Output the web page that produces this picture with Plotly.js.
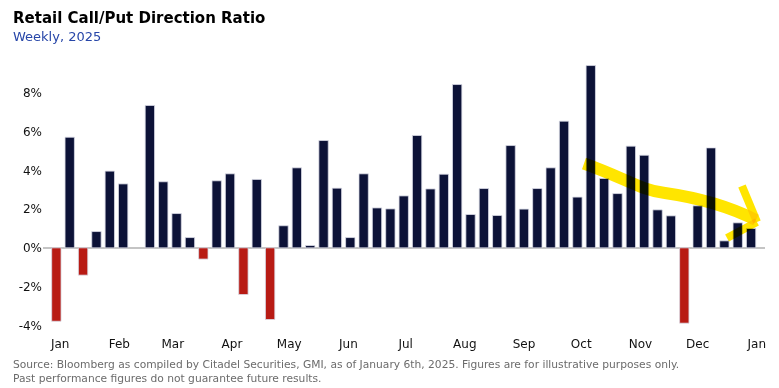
<!DOCTYPE html>
<html>
<head>
<meta charset="utf-8">
<script src="https://cdn.plot.ly/plotly-3.0.1.min.js"></script>
<style>
html,body{margin:0;padding:0;background:#fff;}
#chart{width:779px;height:388px;}
</style>
</head>
<body>
<div id="chart"></div>
<script>
const weeks = ["2024-12-30","2025-01-06","2025-01-13","2025-01-20","2025-01-27","2025-02-03","2025-02-10","2025-02-17","2025-02-24","2025-03-03","2025-03-10","2025-03-17","2025-03-24","2025-03-31","2025-04-07","2025-04-14","2025-04-21","2025-04-28","2025-05-05","2025-05-12","2025-05-19","2025-05-26","2025-06-02","2025-06-09","2025-06-16","2025-06-23","2025-06-30","2025-07-07","2025-07-14","2025-07-21","2025-07-28","2025-08-04","2025-08-11","2025-08-18","2025-08-25","2025-09-01","2025-09-08","2025-09-15","2025-09-22","2025-09-29","2025-10-06","2025-10-13","2025-10-20","2025-10-27","2025-11-03","2025-11-10","2025-11-17","2025-11-24","2025-12-01","2025-12-08","2025-12-15","2025-12-22","2025-12-29"];
const ratioPct = [-3.79,5.71,-1.41,0.84,3.96,3.30,null,7.35,3.41,1.77,0.53,-0.58,3.46,3.82,-2.41,3.53,-3.70,1.14,4.13,0.12,5.54,3.08,0.53,3.82,2.06,2.01,2.68,5.80,3.04,3.80,8.43,1.72,3.06,1.67,5.28,2.00,3.06,4.13,6.54,2.62,9.41,3.58,2.80,5.25,4.78,1.96,1.65,-3.89,2.17,5.16,0.36,1.29,1.00];
const yTicks = [-4,-2,0,2,4,6,8];
const yTickText = ["-4%","-2%","0%","2%","4%","6%","8%"];

const NAVY = "#0c1237", RED = "#b81b14";
const colors = ratioPct.map(v => (v !== null && v < 0) ? RED : NAVY);

// plot area geometry (pixels)
const L = 43, R = 14, T = 58, PH = 277, W = 779, H = 388;
const PW = W - L - R;
const px = x => (x - L) / PW;
const py = y => (T + PH - y) / PH;
const FONT = "DejaVu Sans, sans-serif";

const trace = {
  type: "bar",
  x: weeks,
  y: ratioPct,
  width: 7 * 0.7 * 86400000,
  marker: {color: colors, line: {color: "#d9dbe6", width: 0.8}},
  hoverinfo: "skip"
};

function P(pts){ return pts.map((p,i)=>(i?"L":"M")+px(p[0]).toFixed(4)+","+py(p[1]).toFixed(4)).join(" "); }

const YEL = "#ffe500";
const shapes = [
  {type:"path", xref:"paper", yref:"paper", layer:"above",
   path: "M"+px(584)+","+py(163.5)+" C"+px(625)+","+py(178)+" "+px(640)+","+py(190)+" "+px(665)+","+py(193)+" C"+px(700)+","+py(198)+" "+px(730)+","+py(207)+" "+px(756)+","+py(220),
   line:{color:YEL, width:12}},
  {type:"path", xref:"paper", yref:"paper", layer:"above",
   path: P([[742,186],[757,222]]), line:{color:YEL, width:8}},
  {type:"path", xref:"paper", yref:"paper", layer:"above",
   path: P([[727,238],[757,222]]), line:{color:YEL, width:8}}
];

const annotations = [
  {xref:"paper", yref:"paper", x:px(11), y:py(18), xanchor:"left", yanchor:"middle", showarrow:false,
   text:"<b>Retail Call/Put Direction Ratio</b>", font:{family:FONT, size:15, color:"#000"}},
  {xref:"paper", yref:"paper", x:px(11), y:py(36), xanchor:"left", yanchor:"middle", showarrow:false,
   text:"Weekly, 2025", font:{family:FONT, size:13, color:"#2746a8"}},
  {xref:"paper", yref:"paper", x:px(11), y:py(371), xanchor:"left", yanchor:"middle", showarrow:false, align:"left",
   text:"Source: Bloomberg as compiled by Citadel Securities, GMI, as of January 6th, 2025. Figures are for illustrative purposes only.<br>Past performance figures do not guarantee future results.",
   font:{family:FONT, size:10.7, color:"#6b6b6b"}}
];

const layout = {
  width: W, height: H,
  margin: {l:L, r:R, t:T, b:H-T-PH, pad:0},
  paper_bgcolor:"#fff", plot_bgcolor:"#fff",
  showlegend:false,
  bargap:0,
  xaxis: {
    type:"date",
    range:["2024-12-23","2026-01-05 07:00"],
    tickmode:"linear", tick0:"2025-01-01", dtick:"M1", tickformat:"%b",
    showgrid:false, zeroline:false, showline:false, ticks:"",
    tickfont:{family:FONT, size:12, color:"#111"},
    fixedrange:true
  },
  yaxis: {
    range:[-4.5, 9.8],
    tickmode:"array", tickvals:yTicks, ticktext:yTickText,
    showgrid:false, zeroline:true, zerolinecolor:"#c4c4c4", zerolinewidth:1.5,
    showline:false, ticks:"",
    tickfont:{family:FONT, size:12, color:"#111"},
    fixedrange:true
  },
  shapes: shapes,
  annotations: annotations
};

Plotly.newPlot("chart", [trace], layout, {displayModeBar:false, staticPlot:true}).then(gd => {
  gd.querySelectorAll(".layer-above .shapelayer path").forEach(p => {
    p.style.mixBlendMode = "multiply";
  });
});
</script>
</body>
</html>
